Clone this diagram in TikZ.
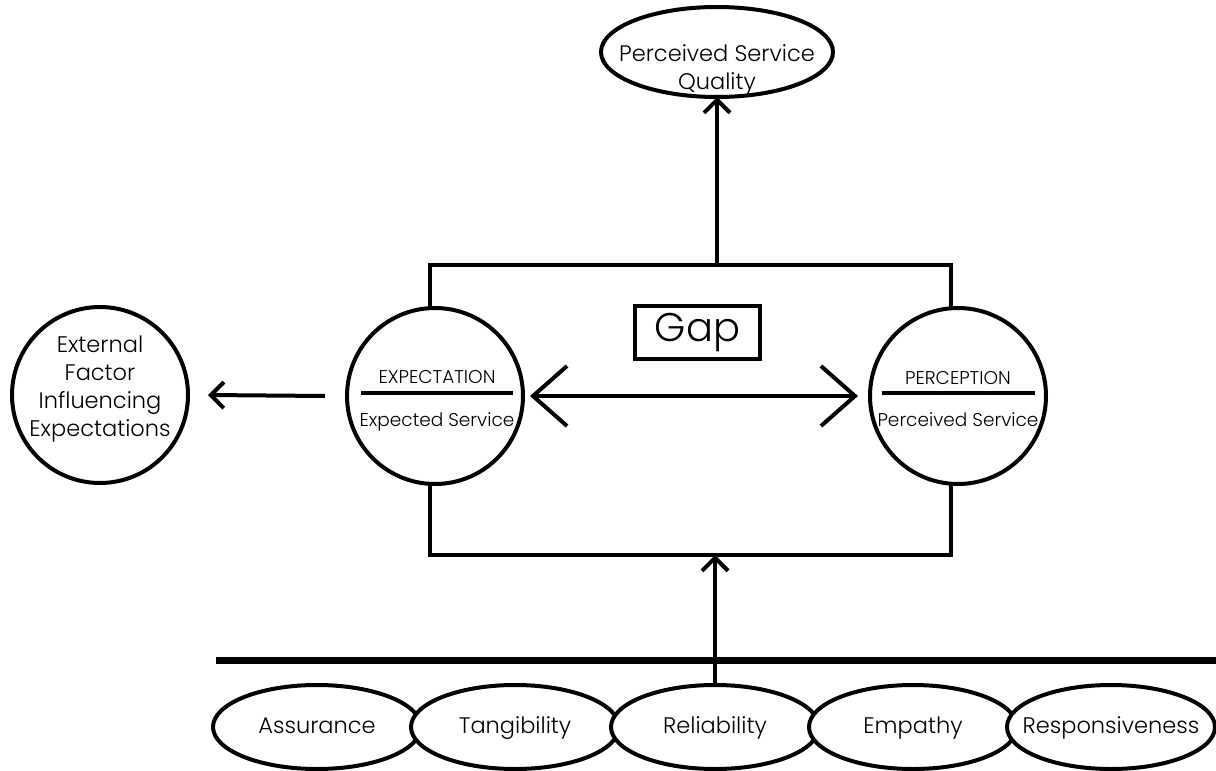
\documentclass[tikz,border=0pt]{standalone}
\usepackage{fontspec}
\setmainfont{Poppins}[UprightFont=* Light]
\usetikzlibrary{arrows.meta,shapes.geometric}
\begin{document}
\begin{tikzpicture}[x=1pt,y=-1pt,line width=4pt,
  every node/.style={font=\fontsize{22.5}{28}\selectfont,align=center,inner sep=0pt,outer sep=0pt},
  oval/.style={draw,ellipse,fill=white,minimum width=208pt,minimum height=84pt},
  bigcirc/.style={draw,circle,fill=white,minimum size=176pt},
  smalltext/.style={font=\fontsize{18.5}{20}\selectfont},
  arr/.style={-{Straight Barb[length=13pt,width=26pt]}},
  dbl/.style={{Straight Barb[length=34pt,width=60pt]}-{Straight Barb[length=34pt,width=60pt]}},
]
\useasboundingbox (0,0) rectangle (1216,771);
% top ellipse
\node[draw,ellipse,minimum width=232pt,minimum height=90pt] (psq) at (717,52) {};
\node (psqt) at (717,70) {Perceived Service\\Quality};
% main box
\node[draw,minimum width=521pt,minimum height=290pt] (box) at (690.5,410) {};
% circles
\node[bigcirc] (exp) at (435,396) {};
\node[bigcirc] (per) at (958,396) {};
\node[bigcirc] (ext) at (100,395) {};
% circle texts
\draw (361,393) -- (513,393);
\node[smalltext,anchor=base] (expA) at (437,383.5) {EXPECTATION};
\node[smalltext,anchor=base] (expB) at (437,426) {Expected Service};
\draw (882,393) -- (1035,393);
\node[smalltext,anchor=base] (perA) at (958,384) {PERCEPTION};
\node[smalltext,anchor=base] (perB) at (958,426) {Perceived Service};
\node (extt) at (100,389) {External\\Factor\\Influencing\\Expectations};
% gap
\node[draw,line width=3.3pt,minimum width=125pt,minimum height=53pt,font=\fontsize{40}{44}\selectfont] (gap) at (697.5,332.5) {Gap};
% arrows
\draw[dbl] ([xshift=7pt]exp.east) -- ([xshift=-12pt]per.west);
\draw[arr] ([xshift=-22pt]exp.west) -- ([xshift=20pt]ext.east);
\draw[arr] (box.north -| psq.south) -- (psq.south);
% bottom
\draw[line width=7pt] (216,660) -- (1216,660);
\node[oval] (ass) at (317,727) {};
\node[oval] (tan) at (515,727) {};
\node[oval] (rel) at (715,727) {};
\node[oval] (emp) at (913,727) {};
\node[oval] (res) at (1111,727) {};
\node[anchor=base] (asst) at (317,733) {Assurance};
\node[anchor=base] (tant) at (515,733) {Tangibility};
\node[anchor=base] (relt) at (715,733) {Reliability};
\node[anchor=base] (empt) at (913,733) {Empathy};
\node[anchor=base] (rest) at (1111,733) {Responsiveness};
\draw[arr] (rel.north) -- (rel.north |- box.south);
\end{tikzpicture}
\end{document}
